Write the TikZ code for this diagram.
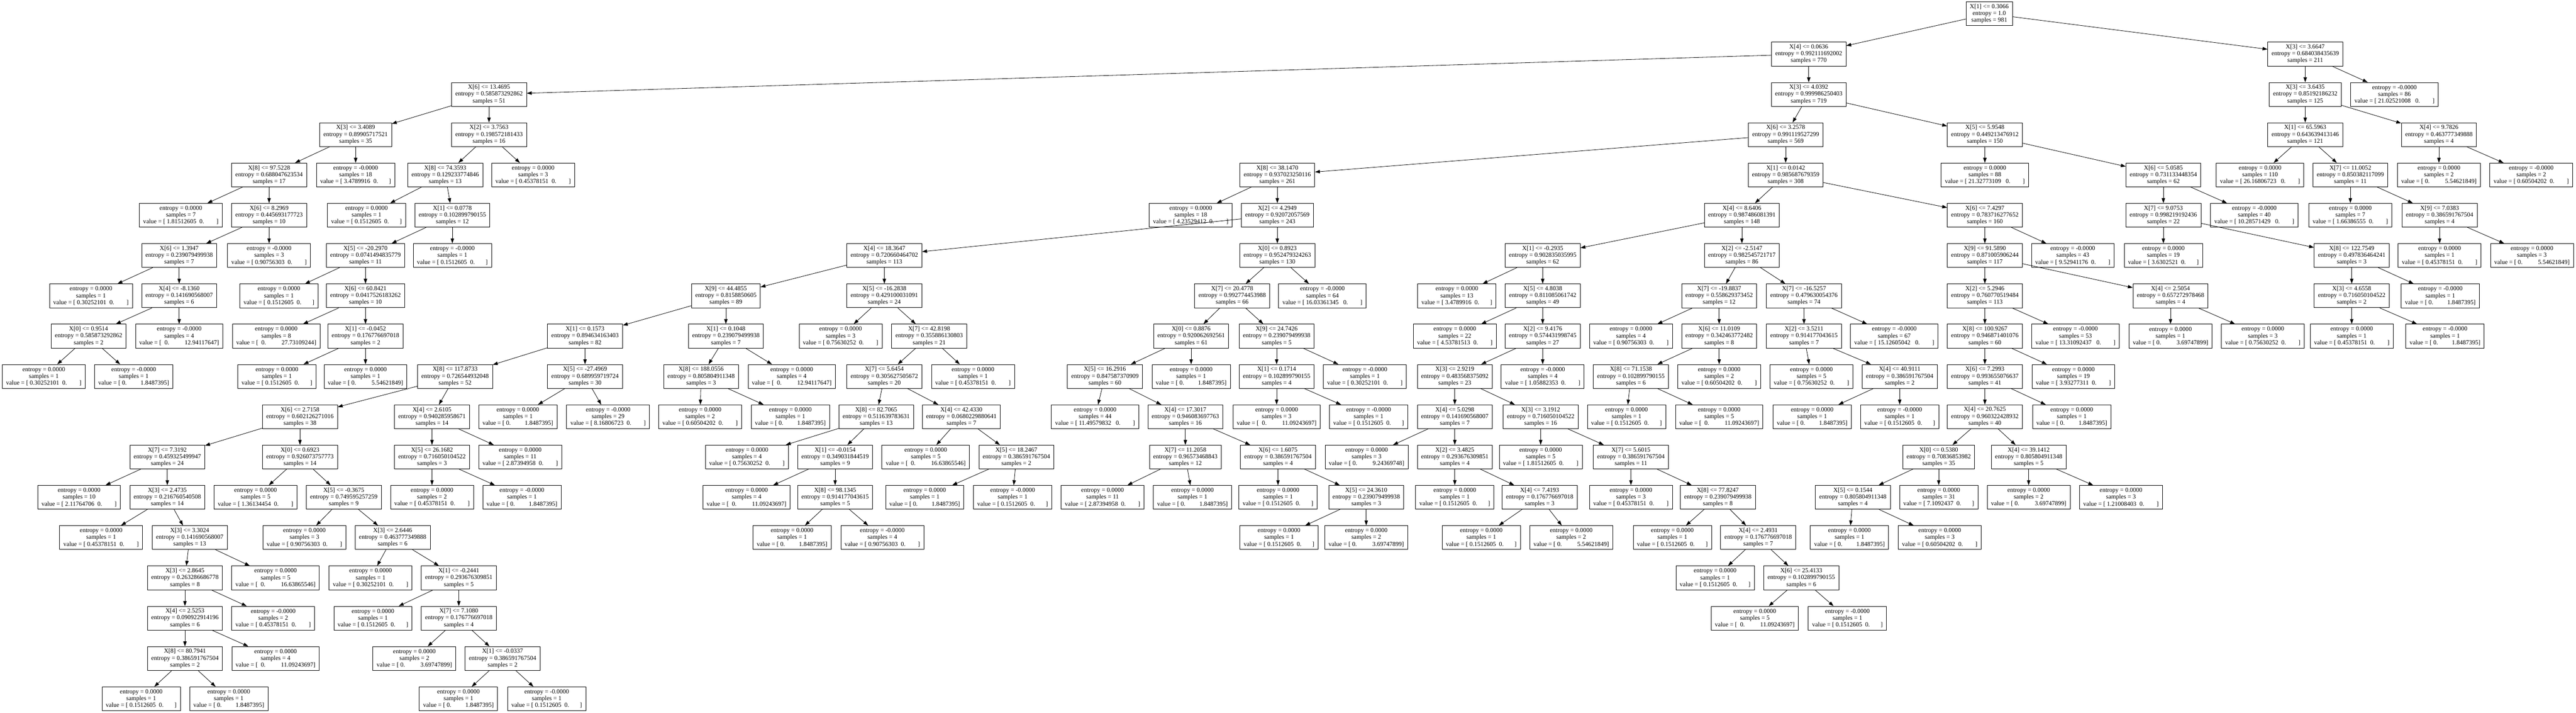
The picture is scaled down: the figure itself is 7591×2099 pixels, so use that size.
\documentclass[tikz,border=0pt]{standalone}
\usepackage{fontspec}
\setmainfont{Liberation Serif}
\usetikzlibrary{arrows.meta}

\newcommand{\gp}[1]{\hspace*{#1\fontdimen2\font}}
\newcommand{\xcond}[4]{X[#1] <= #2\\entropy = #3\\samples = #4}
\newcommand{\xleaf}[3]{entropy = #1\\samples = #2\\#3}
\newcommand{\valL}[2]{value = [ #1\gp{2}0.\gp{#2}]}
\newcommand{\valLL}[1]{value = [ #1\gp{3}0.\gp{8}]}
\newcommand{\valR}[2]{value = [ 0.\gp{#2}#1]}
\newcommand{\valRR}[1]{value = [\gp{2}0.\gp{10}#1]}

\begin{document}
\begin{tikzpicture}[x=0.02cm, y=-0.02cm, node distance=2.3732cm, line width=0.7pt,
    >={Triangle[length=8.3pt,width=5.7pt]},
    tbox/.style={draw, rectangle, align=center, inner xsep=6.4pt, inner ysep=2pt,
        minimum height=39.9pt, font=\fontsize{10.4}{11.38}\selectfont}]
    \useasboundingbox (0,0) rectangle (7591,2099);

    % Nodes
    \node (n1) [tbox] at (5862,40.6) {\xcond{1}{0.3066}{1.0}{981}};
    \node (n2) [tbox] at (5330,159.2) {\xcond{4}{0.0636}{0.992111692002}{770}};
    \node (n3) [tbox] at (6793,159.2) {\xcond{3}{3.6647}{0.684038435639}{211}};

    \node (n4) [tbox] at (1441,277.9) {\xcond{6}{13.4695}{0.585873292862}{51}};
    \node (n5) [below of=n2, tbox] {\xcond{3}{4.0392}{0.999986250403}{719}};
    \node (n6) [below of=n3, tbox] {\xcond{3}{3.6435}{0.85192186232}{125}};
    \node (n7) [tbox] at (7056,277.9) {\xleaf{-0.0000}{86}{\valLL{21.02521008}}};

    \node (n8) [tbox] at (1048,396.5) {\xcond{3}{3.4089}{0.89905717521}{35}};
    \node (n9) [below of=n4, tbox] {\xcond{2}{3.7563}{0.198572181433}{16}};
    \node (n10) [tbox] at (5262,396.5) {\xcond{6}{3.2578}{0.991119527299}{569}};
    \node (n11) [tbox] at (5849,396.5) {\xcond{5}{5.9548}{0.449213476912}{150}};
    \node (n12) [below of=n6, tbox] {\xcond{1}{65.5963}{0.643639413146}{121}};
    \node (n13) [tbox] at (7187,396.5) {\xcond{4}{9.7826}{0.463777349888}{4}};

    \node (n14) [tbox] at (793,515.2) {\xcond{8}{97.5228}{0.688047623534}{17}};
    \node (n15) [below of=n8, tbox] {\xleaf{-0.0000}{18}{\valL{3.4789916}{7}}};
    \node (n16) [tbox] at (1312,515.2) {\xcond{8}{74.3593}{0.129233774846}{13}};
    \node (n17) [tbox] at (1571,515.2) {\xleaf{0.0000}{3}{\valL{0.45378151}{8}}};
    \node (n18) [tbox] at (3764,515.2) {\xcond{8}{38.1470}{0.937023250116}{261}};
    \node (n19) [below of=n10, tbox] {\xcond{1}{0.0142}{0.985687679359}{308}};
    \node (n20) [below of=n11, tbox] {\xleaf{0.0000}{88}{\valLL{21.32773109}}};
    \node (n21) [tbox] at (6375,515.2) {\xcond{6}{5.0585}{0.731133448354}{62}};
    \node (n22) [tbox] at (6660,515.2) {\xleaf{0.0000}{110}{\valLL{26.16806723}}};
    \node (n23) [tbox] at (6926,515.2) {\xcond{7}{11.0052}{0.850382117099}{11}};
    \node (n24) [below of=n13, tbox] {\xleaf{0.0000}{2}{\valR{5.54621849}{10}}};
    \node (n25) [tbox] at (7459,515.2) {\xleaf{-0.0000}{2}{\valL{0.60504202}{8}}};

    \node (n26) [tbox] at (533,633.9) {\xleaf{0.0000}{7}{\valL{1.81512605}{8}}};
    \node (n27) [below of=n14, tbox] {\xcond{6}{8.2969}{0.445693177723}{10}};
    \node (n28) [tbox] at (1080,633.9) {\xleaf{0.0000}{1}{\valL{0.1512605}{7}}};
    \node (n29) [tbox] at (1333,633.9) {\xcond{1}{0.0778}{0.102899790155}{12}};
    \node (n30) [tbox] at (3509,633.9) {\xleaf{0.0000}{18}{\valL{4.23529412}{8}}};
    \node (n31) [below of=n18, tbox] {\xcond{2}{4.2949}{0.92072057569}{243}};
    \node (n32) [tbox] at (5133,633.9) {\xcond{4}{8.6406}{0.987486081391}{148}};
    \node (n33) [tbox] at (5849,633.9) {\xcond{6}{7.4297}{0.783716277652}{160}};
    \node (n34) [below of=n21, tbox] {\xcond{7}{9.0753}{0.998219192436}{22}};
    \node (n35) [tbox] at (6643,633.9) {\xleaf{-0.0000}{40}{\valLL{10.28571429}}};
    \node (n36) [below of=n23, tbox] {\xleaf{0.0000}{7}{\valL{1.66386555}{8}}};
    \node (n37) [tbox] at (7189,633.9) {\xcond{9}{7.0383}{0.386591767504}{4}};

    \node (n38) [tbox] at (528,752.5) {\xcond{6}{1.3947}{0.239079499938}{7}};
    \node (n39) [below of=n27, tbox] {\xleaf{-0.0000}{3}{\valL{0.90756303}{8}}};
    \node (n40) [tbox] at (1077,752.5) {\xcond{5}{-20.2970}{0.0741494835779}{11}};
    \node (n41) [below of=n29, tbox] {\xleaf{-0.0000}{1}{\valL{0.1512605}{7}}};
    \node (n42) [tbox] at (2606,752.5) {\xcond{4}{18.3647}{0.720660464702}{113}};
    \node (n43) [below of=n31, tbox] {\xcond{0}{0.8923}{0.952479324263}{130}};
    \node (n44) [tbox] at (4546,752.5) {\xcond{1}{-0.2935}{0.902835035995}{62}};
    \node (n45) [below of=n32, tbox] {\xcond{2}{-2.5147}{0.982545721717}{86}};
    \node (n46) [below of=n33, tbox] {\xcond{9}{91.5890}{0.871005906244}{117}};
    \node (n47) [tbox] at (6108,752.5) {\xleaf{-0.0000}{43}{\valL{9.52941176}{8}}};
    \node (n48) [below of=n34, tbox] {\xleaf{0.0000}{19}{\valL{3.6302521}{7}}};
    \node (n49) [tbox] at (6930,752.5) {\xcond{8}{122.7549}{0.497836464241}{3}};
    \node (n50) [below of=n37, tbox] {\xleaf{0.0000}{1}{\valL{0.45378151}{8}}};
    \node (n51) [tbox] at (7461,752.5) {\xleaf{0.0000}{3}{\valR{5.54621849}{10}}};

    \node (n52) [tbox] at (268,871.2) {\xleaf{0.0000}{1}{\valL{0.30252101}{8}}};
    \node (n53) [below of=n38, tbox] {\xcond{4}{-8.1360}{0.141690568007}{6}};
    \node (n54) [tbox] at (822,871.2) {\xleaf{0.0000}{1}{\valL{0.1512605}{7}}};
    \node (n55) [below of=n40, tbox] {\xcond{6}{60.8421}{0.0417526183262}{10}};
    \node (n56) [tbox] at (2139,871.2) {\xcond{9}{44.4855}{0.8158850605}{89}};
    \node (n57) [below of=n42, tbox] {\xcond{5}{-16.2838}{0.429100031091}{24}};
    \node (n58) [tbox] at (3631,871.2) {\xcond{7}{20.4778}{0.992774453988}{66}};
    \node (n59) [tbox] at (3897,871.2) {\xleaf{-0.0000}{64}{\valLL{16.03361345}}};
    \node (n60) [tbox] at (4293,871.2) {\xleaf{0.0000}{13}{\valL{3.4789916}{7}}};
    \node (n61) [below of=n44, tbox] {\xcond{5}{4.8038}{0.811085061742}{49}};
    \node (n62) [tbox] at (5066,871.2) {\xcond{7}{-19.8837}{0.558629373452}{12}};
    \node (n63) [tbox] at (5316,871.2) {\xcond{7}{-16.5257}{0.479630054376}{74}};
    \node (n64) [below of=n46, tbox] {\xcond{2}{5.2946}{0.760770519484}{113}};
    \node (n65) [tbox] at (6396,871.2) {\xcond{4}{2.5054}{0.657272978468}{4}};
    \node (n66) [below of=n49, tbox] {\xcond{3}{4.6558}{0.716050104522}{2}};
    \node (n67) [tbox] at (7191,871.2) {\xleaf{-0.0000}{1}{\valR{1.8487395}{9}}};

    \node (n68) [tbox] at (261,989.8) {\xcond{0}{0.9514}{0.585873292862}{2}};
    \node (n69) [below of=n53, tbox] {\xleaf{-0.0000}{4}{\valRR{12.94117647}}};
    \node (n70) [tbox] at (814,989.8) {\xleaf{0.0000}{8}{\valRR{27.73109244}}};
    \node (n71) [below of=n55, tbox] {\xcond{1}{-0.0452}{0.176776697018}{2}};
    \node (n72) [tbox] at (1724,989.8) {\xcond{1}{0.1573}{0.894634163403}{82}};
    \node (n73) [below of=n56, tbox] {\xcond{1}{0.1048}{0.239079499938}{7}};
    \node (n74) [tbox] at (2477,989.8) {\xleaf{0.0000}{3}{\valL{0.75630252}{8}}};
    \node (n75) [tbox] at (2738,989.8) {\xcond{7}{42.8198}{0.355886130803}{21}};
    \node (n76) [tbox] at (3510,989.8) {\xcond{0}{0.8876}{0.920062692561}{61}};
    \node (n77) [tbox] at (3762,989.8) {\xcond{9}{24.7426}{0.239079499938}{5}};
    \node (n78) [tbox] at (4287,989.8) {\xleaf{0.0000}{22}{\valL{4.53781513}{8}}};
    \node (n79) [below of=n61, tbox] {\xcond{2}{9.4176}{0.574431998745}{27}};
    \node (n80) [tbox] at (4806,989.8) {\xleaf{0.0000}{4}{\valL{0.90756303}{8}}};
    \node (n81) [below of=n62, tbox] {\xcond{6}{11.0109}{0.342463772482}{8}};
    \node (n82) [below of=n63, tbox] {\xcond{2}{3.5211}{0.914177043615}{7}};
    \node (n83) [tbox] at (5582,989.8) {\xleaf{-0.0000}{67}{\valLL{15.12605042}}};
    \node (n84) [below of=n64, tbox] {\xcond{8}{100.9267}{0.946871401076}{60}};
    \node (n85) [tbox] at (6116,989.8) {\xleaf{-0.0000}{53}{\valLL{13.31092437}}};
    \node (n86) [below of=n65, tbox] {\xleaf{0.0000}{1}{\valR{3.69747899}{10}}};
    \node (n87) [tbox] at (6668,989.8) {\xleaf{0.0000}{3}{\valL{0.75630252}{8}}};
    \node (n88) [below of=n66, tbox] {\xleaf{0.0000}{1}{\valL{0.45378151}{8}}};
    \node (n89) [tbox] at (7205,989.8) {\xleaf{-0.0000}{1}{\valR{1.8487395}{9}}};

    \node (n90) [tbox] at (129,1108.5) {\xleaf{0.0000}{1}{\valL{0.30252101}{8}}};
    \node (n91) [tbox] at (394,1108.5) {\xleaf{-0.0000}{1}{\valR{1.8487395}{9}}};
    \node (n92) [tbox] at (816,1108.5) {\xleaf{0.0000}{1}{\valL{0.1512605}{7}}};
    \node (n93) [below of=n71, tbox] {\xleaf{0.0000}{1}{\valR{5.54621849}{10}}};
    \node (n94) [tbox] at (1341,1108.5) {\xcond{8}{117.8733}{0.726544932048}{52}};
    \node (n95) [below of=n72, tbox] {\xcond{5}{-27.4969}{0.689959719724}{30}};
    \node (n96) [tbox] at (2066,1108.5) {\xcond{8}{188.0556}{0.805804911348}{3}};
    \node (n97) [tbox] at (2333,1108.5) {\xleaf{0.0000}{4}{\valRR{12.94117647}}};
    \node (n98) [tbox] at (2606,1108.5) {\xcond{7}{5.6454}{0.305627505672}{20}};
    \node (n99) [tbox] at (2867,1108.5) {\xleaf{0.0000}{1}{\valL{0.45378151}{8}}};
    \node (n100) [tbox] at (3256,1108.5) {\xcond{5}{16.2916}{0.847587370909}{60}};
    \node (n101) [below of=n76, tbox] {\xleaf{0.0000}{1}{\valR{1.8487395}{9}}};
    \node (n102) [below of=n77, tbox] {\xcond{1}{0.1714}{0.102899790155}{4}};
    \node (n103) [tbox] at (4022,1108.5) {\xleaf{-0.0000}{1}{\valL{0.30252101}{8}}};
    \node (n104) [tbox] at (4287,1108.5) {\xcond{3}{2.9219}{0.483568375092}{23}};
    \node (n105) [below of=n79, tbox] {\xleaf{-0.0000}{4}{\valL{1.05882353}{8}}};
    \node (n106) [tbox] at (4806,1108.5) {\xcond{8}{71.1538}{0.102899790155}{6}};
    \node (n107) [below of=n81, tbox] {\xleaf{0.0000}{2}{\valL{0.60504202}{8}}};
    \node (n108) [tbox] at (5338,1108.5) {\xleaf{0.0000}{5}{\valL{0.75630252}{8}}};
    \node (n109) [tbox] at (5598,1108.5) {\xcond{4}{40.9111}{0.386591767504}{2}};
    \node (n110) [below of=n84, tbox] {\xcond{6}{7.2993}{0.993655076637}{41}};
    \node (n111) [tbox] at (6110,1108.5) {\xleaf{0.0000}{19}{\valL{3.93277311}{8}}};

    \node (n112) [tbox] at (884,1227.2) {\xcond{6}{2.7158}{0.602126271016}{38}};
    \node (n113) [tbox] at (1273,1227.2) {\xcond{4}{2.6105}{0.940285958671}{14}};
    \node (n114) [tbox] at (1526,1227.2) {\xleaf{0.0000}{1}{\valR{1.8487395}{9}}};
    \node (n115) [tbox] at (1792,1227.2) {\xleaf{-0.0000}{29}{\valL{8.16806723}{8}}};
    \node (n116) [tbox] at (2063,1227.2) {\xleaf{0.0000}{2}{\valL{0.60504202}{8}}};
    \node (n117) [tbox] at (2329,1227.2) {\xleaf{0.0000}{1}{\valR{1.8487395}{9}}};
    \node (n118) [tbox] at (2582,1227.2) {\xcond{8}{82.7065}{0.511639783631}{13}};
    \node (n119) [tbox] at (2833,1227.2) {\xcond{4}{42.4330}{0.0680229880641}{7}};
    \node (n120) [tbox] at (3227,1227.2) {\xleaf{0.0000}{44}{\valLL{11.49579832}}};
    \node (n121) [tbox] at (3493,1227.2) {\xcond{4}{17.3017}{0.946083697763}{16}};
    \node (n122) [below of=n102, tbox] {\xleaf{0.0000}{3}{\valRR{11.09243697}}};
    \node (n123) [tbox] at (4033,1227.2) {\xleaf{-0.0000}{1}{\valL{0.1512605}{7}}};
    \node (n124) [below of=n104, tbox] {\xcond{4}{5.0298}{0.141690568007}{7}};
    \node (n125) [tbox] at (4540,1227.2) {\xcond{3}{3.1912}{0.716050104522}{16}};
    \node (n126) [tbox] at (4793,1227.2) {\xleaf{0.0000}{1}{\valL{0.1512605}{7}}};
    \node (n127) [tbox] at (5066,1227.2) {\xleaf{0.0000}{5}{\valRR{11.09243697}}};
    \node (n128) [tbox] at (5340,1227.2) {\xleaf{0.0000}{1}{\valR{1.8487395}{9}}};
    \node (n129) [below of=n109, tbox] {\xleaf{-0.0000}{1}{\valL{0.1512605}{7}}};
    \node (n130) [below of=n110, tbox] {\xcond{4}{20.7625}{0.960322428932}{40}};
    \node (n131) [tbox] at (6105,1227.2) {\xleaf{0.0000}{1}{\valR{1.8487395}{9}}};

    \node (n132) [tbox] at (493,1345.8) {\xcond{7}{7.3192}{0.459325499947}{24}};
    \node (n133) [below of=n112, tbox] {\xcond{0}{0.6923}{0.926073757773}{14}};
    \node (n134) [below of=n113, tbox] {\xcond{5}{26.1682}{0.716050104522}{3}};
    \node (n135) [tbox] at (1533,1345.8) {\xleaf{0.0000}{11}{\valL{2.87394958}{8}}};
    \node (n136) [tbox] at (2201,1345.8) {\xleaf{0.0000}{4}{\valL{0.75630252}{8}}};
    \node (n137) [tbox] at (2461,1345.8) {\xcond{1}{-0.0154}{0.349031844519}{9}};
    \node (n138) [tbox] at (2728,1345.8) {\xleaf{0.0000}{5}{\valRR{16.63865546}}};
    \node (n139) [tbox] at (2995,1345.8) {\xcond{5}{18.2467}{0.386591767504}{2}};
    \node (n140) [below of=n121, tbox] {\xcond{7}{11.2058}{0.96573468843}{12}};
    \node (n141) [tbox] at (3766,1345.8) {\xcond{6}{1.6075}{0.386591767504}{4}};
    \node (n142) [tbox] at (4027,1345.8) {\xleaf{0.0000}{3}{\valR{9.24369748}{10}}};
    \node (n143) [below of=n124, tbox] {\xcond{2}{3.4825}{0.293676309851}{4}};
    \node (n144) [below of=n125, tbox] {\xleaf{0.0000}{5}{\valL{1.81512605}{8}}};
    \node (n145) [tbox] at (4806,1345.8) {\xcond{7}{5.6015}{0.386591767504}{11}};
    \node (n146) [tbox] at (5713,1345.8) {\xcond{0}{0.5380}{0.70836853982}{35}};
    \node (n147) [tbox] at (5978,1345.8) {\xcond{4}{39.1412}{0.805804911348}{5}};

    \node (n148) [tbox] at (233,1464.5) {\xleaf{0.0000}{10}{\valL{2.11764706}{8}}};
    \node (n149) [below of=n132, tbox] {\xcond{3}{2.4735}{0.216760540508}{14}};
    \node (n150) [tbox] at (753,1464.5) {\xleaf{0.0000}{5}{\valL{1.36134454}{8}}};
    \node (n151) [tbox] at (1013,1464.5) {\xcond{5}{-0.3675}{0.749595257259}{9}};
    \node (n152) [below of=n134, tbox] {\xleaf{0.0000}{2}{\valL{0.45378151}{8}}};
    \node (n153) [tbox] at (1538,1464.5) {\xleaf{-0.0000}{1}{\valR{1.8487395}{9}}};
    \node (n154) [tbox] at (2200,1464.5) {\xleaf{0.0000}{4}{\valRR{11.09243697}}};
    \node (n155) [below of=n137, tbox] {\xcond{8}{98.1345}{0.914177043615}{5}};
    \node (n156) [tbox] at (2725,1464.5) {\xleaf{0.0000}{1}{\valR{1.8487395}{9}}};
    \node (n157) [tbox] at (2984,1464.5) {\xleaf{-0.0000}{1}{\valL{0.1512605}{7}}};
    \node (n158) [tbox] at (3249,1464.5) {\xleaf{0.0000}{11}{\valL{2.87394958}{8}}};
    \node (n159) [tbox] at (3514,1464.5) {\xleaf{0.0000}{1}{\valR{1.8487395}{9}}};
    \node (n160) [below of=n141, tbox] {\xleaf{0.0000}{1}{\valL{0.1512605}{7}}};
    \node (n161) [tbox] at (4026,1464.5) {\xcond{5}{24.3610}{0.239079499938}{3}};
    \node (n162) [below of=n143, tbox] {\xleaf{0.0000}{1}{\valL{0.1512605}{7}}};
    \node (n163) [tbox] at (4537,1464.5) {\xcond{4}{7.4193}{0.176776697018}{3}};
    \node (n164) [below of=n145, tbox] {\xleaf{0.0000}{3}{\valL{0.45378151}{8}}};
    \node (n165) [tbox] at (5062,1464.5) {\xcond{8}{77.8247}{0.239079499938}{8}};
    \node (n166) [tbox] at (5460,1464.5) {\xcond{5}{0.1544}{0.805804911348}{4}};
    \node (n167) [below of=n146, tbox] {\xleaf{0.0000}{31}{\valL{7.1092437}{7}}};
    \node (n168) [below of=n147, tbox] {\xleaf{0.0000}{2}{\valR{3.69747899}{10}}};
    \node (n169) [tbox] at (6250,1464.5) {\xleaf{0.0000}{3}{\valL{1.21008403}{8}}};

    \node (n170) [tbox] at (298,1583.1) {\xleaf{0.0000}{1}{\valL{0.45378151}{8}}};
    \node (n171) [tbox] at (559,1583.1) {\xcond{3}{3.3024}{0.141690568007}{13}};
    \node (n172) [tbox] at (897,1583.1) {\xleaf{0.0000}{3}{\valL{0.90756303}{8}}};
    \node (n173) [tbox] at (1157,1583.1) {\xcond{3}{2.6446}{0.463777349888}{6}};
    \node (n174) [tbox] at (2334,1583.1) {\xleaf{0.0000}{1}{\valR{1.8487395}{9}}};
    \node (n175) [tbox] at (2600,1583.1) {\xleaf{-0.0000}{4}{\valL{0.90756303}{8}}};
    \node (n176) [tbox] at (3769,1583.1) {\xleaf{0.0000}{1}{\valL{0.1512605}{7}}};
    \node (n177) [below of=n161, tbox] {\xleaf{0.0000}{2}{\valR{3.69747899}{10}}};
    \node (n178) [tbox] at (4365,1583.1) {\xleaf{0.0000}{1}{\valL{0.1512605}{7}}};
    \node (n179) [tbox] at (4630,1583.1) {\xleaf{0.0000}{2}{\valR{5.54621849}{10}}};
    \node (n180) [tbox] at (4928,1583.1) {\xleaf{0.0000}{1}{\valL{0.1512605}{7}}};
    \node (n181) [tbox] at (5181,1583.1) {\xcond{4}{2.4931}{0.176776697018}{7}};
    \node (n182) [tbox] at (5450,1583.1) {\xleaf{0.0000}{1}{\valR{1.8487395}{9}}};
    \node (n183) [tbox] at (5716,1583.1) {\xleaf{0.0000}{3}{\valL{0.60504202}{8}}};

    \node (n184) [tbox] at (545,1701.8) {\xcond{3}{2.8645}{0.263286686778}{8}};
    \node (n185) [tbox] at (812,1701.8) {\xleaf{0.0000}{5}{\valRR{16.63865546}}};
    \node (n186) [tbox] at (1092,1701.8) {\xleaf{0.0000}{1}{\valL{0.30252101}{8}}};
    \node (n187) [tbox] at (1352,1701.8) {\xcond{1}{-0.2441}{0.293676309851}{5}};
    \node (n188) [tbox] at (5054,1701.8) {\xleaf{0.0000}{1}{\valL{0.1512605}{7}}};
    \node (n189) [tbox] at (5308,1701.8) {\xcond{6}{25.4133}{0.102899790155}{6}};

    \node (n190) [below of=n184, tbox] {\xcond{4}{2.5253}{0.090922914196}{6}};
    \node (n191) [tbox] at (805,1820.5) {\xleaf{-0.0000}{2}{\valL{0.45378151}{8}}};
    \node (n192) [tbox] at (1099,1820.5) {\xleaf{0.0000}{1}{\valL{0.1512605}{7}}};
    \node (n193) [below of=n187, tbox] {\xcond{7}{7.1080}{0.176776697018}{4}};
    \node (n194) [tbox] at (5171,1820.5) {\xleaf{0.0000}{5}{\valRR{11.09243697}}};
    \node (n195) [tbox] at (5444,1820.5) {\xleaf{-0.0000}{1}{\valL{0.1512605}{7}}};

    \node (n196) [below of=n190, tbox] {\xcond{8}{80.7941}{0.386591767504}{2}};
    \node (n197) [tbox] at (812,1939.1) {\xleaf{0.0000}{4}{\valRR{11.09243697}}};
    \node (n198) [tbox] at (1221,1939.1) {\xleaf{0.0000}{2}{\valR{3.69747899}{10}}};
    \node (n199) [tbox] at (1481,1939.1) {\xcond{1}{-0.0337}{0.386591767504}{2}};

    \node (n200) [tbox] at (416,2057.8) {\xleaf{0.0000}{1}{\valL{0.1512605}{7}}};
    \node (n201) [tbox] at (674,2057.8) {\xleaf{0.0000}{1}{\valR{1.8487395}{9}}};
    \node (n202) [tbox] at (1351,2057.8) {\xleaf{0.0000}{1}{\valR{1.8487395}{9}}};
    \node (n203) [tbox] at (1611,2057.8) {\xleaf{-0.0000}{1}{\valL{0.1512605}{7}}};

    % Arrows
    \draw[->] (n1) -- (n2);
    \draw[->] (n1) -- (n3);
    \draw[->] (n2) -- (n4);
    \draw[->] (n2) -- (n5);
    \draw[->] (n3) -- (n6);
    \draw[->] (n3) -- (n7);
    \draw[->] (n4) -- (n8);
    \draw[->] (n4) -- (n9);
    \draw[->] (n5) -- (n10);
    \draw[->] (n5) -- (n11);
    \draw[->] (n6) -- (n12);
    \draw[->] (n6) -- (n13);
    \draw[->] (n8) -- (n14);
    \draw[->] (n8) -- (n15);
    \draw[->] (n9) -- (n16);
    \draw[->] (n9) -- (n17);
    \draw[->] (n10) -- (n18);
    \draw[->] (n10) -- (n19);
    \draw[->] (n11) -- (n20);
    \draw[->] (n11) -- (n21);
    \draw[->] (n12) -- (n22);
    \draw[->] (n12) -- (n23);
    \draw[->] (n13) -- (n24);
    \draw[->] (n13) -- (n25);
    \draw[->] (n14) -- (n26);
    \draw[->] (n14) -- (n27);
    \draw[->] (n16) -- (n28);
    \draw[->] (n16) -- (n29);
    \draw[->] (n18) -- (n30);
    \draw[->] (n18) -- (n31);
    \draw[->] (n19) -- (n32);
    \draw[->] (n19) -- (n33);
    \draw[->] (n21) -- (n34);
    \draw[->] (n21) -- (n35);
    \draw[->] (n23) -- (n36);
    \draw[->] (n23) -- (n37);
    \draw[->] (n27) -- (n38);
    \draw[->] (n27) -- (n39);
    \draw[->] (n29) -- (n40);
    \draw[->] (n29) -- (n41);
    \draw[->] (n31) -- (n42);
    \draw[->] (n31) -- (n43);
    \draw[->] (n32) -- (n44);
    \draw[->] (n32) -- (n45);
    \draw[->] (n33) -- (n46);
    \draw[->] (n33) -- (n47);
    \draw[->] (n34) -- (n48);
    \draw[->] (n34) -- (n49);
    \draw[->] (n37) -- (n50);
    \draw[->] (n37) -- (n51);
    \draw[->] (n38) -- (n52);
    \draw[->] (n38) -- (n53);
    \draw[->] (n40) -- (n54);
    \draw[->] (n40) -- (n55);
    \draw[->] (n42) -- (n56);
    \draw[->] (n42) -- (n57);
    \draw[->] (n43) -- (n58);
    \draw[->] (n43) -- (n59);
    \draw[->] (n44) -- (n60);
    \draw[->] (n44) -- (n61);
    \draw[->] (n45) -- (n62);
    \draw[->] (n45) -- (n63);
    \draw[->] (n46) -- (n64);
    \draw[->] (n46) -- (n65);
    \draw[->] (n49) -- (n66);
    \draw[->] (n49) -- (n67);
    \draw[->] (n53) -- (n68);
    \draw[->] (n53) -- (n69);
    \draw[->] (n55) -- (n70);
    \draw[->] (n55) -- (n71);
    \draw[->] (n56) -- (n72);
    \draw[->] (n56) -- (n73);
    \draw[->] (n57) -- (n74);
    \draw[->] (n57) -- (n75);
    \draw[->] (n58) -- (n76);
    \draw[->] (n58) -- (n77);
    \draw[->] (n61) -- (n78);
    \draw[->] (n61) -- (n79);
    \draw[->] (n62) -- (n80);
    \draw[->] (n62) -- (n81);
    \draw[->] (n63) -- (n82);
    \draw[->] (n63) -- (n83);
    \draw[->] (n64) -- (n84);
    \draw[->] (n64) -- (n85);
    \draw[->] (n65) -- (n86);
    \draw[->] (n65) -- (n87);
    \draw[->] (n66) -- (n88);
    \draw[->] (n66) -- (n89);
    \draw[->] (n68) -- (n90);
    \draw[->] (n68) -- (n91);
    \draw[->] (n71) -- (n92);
    \draw[->] (n71) -- (n93);
    \draw[->] (n72) -- (n94);
    \draw[->] (n72) -- (n95);
    \draw[->] (n73) -- (n96);
    \draw[->] (n73) -- (n97);
    \draw[->] (n75) -- (n98);
    \draw[->] (n75) -- (n99);
    \draw[->] (n76) -- (n100);
    \draw[->] (n76) -- (n101);
    \draw[->] (n77) -- (n102);
    \draw[->] (n77) -- (n103);
    \draw[->] (n79) -- (n104);
    \draw[->] (n79) -- (n105);
    \draw[->] (n81) -- (n106);
    \draw[->] (n81) -- (n107);
    \draw[->] (n82) -- (n108);
    \draw[->] (n82) -- (n109);
    \draw[->] (n84) -- (n110);
    \draw[->] (n84) -- (n111);
    \draw[->] (n94) -- (n112);
    \draw[->] (n94) -- (n113);
    \draw[->] (n95) -- (n114);
    \draw[->] (n95) -- (n115);
    \draw[->] (n96) -- (n116);
    \draw[->] (n96) -- (n117);
    \draw[->] (n98) -- (n118);
    \draw[->] (n98) -- (n119);
    \draw[->] (n100) -- (n120);
    \draw[->] (n100) -- (n121);
    \draw[->] (n102) -- (n122);
    \draw[->] (n102) -- (n123);
    \draw[->] (n104) -- (n124);
    \draw[->] (n104) -- (n125);
    \draw[->] (n106) -- (n126);
    \draw[->] (n106) -- (n127);
    \draw[->] (n109) -- (n128);
    \draw[->] (n109) -- (n129);
    \draw[->] (n110) -- (n130);
    \draw[->] (n110) -- (n131);
    \draw[->] (n112) -- (n132);
    \draw[->] (n112) -- (n133);
    \draw[->] (n113) -- (n134);
    \draw[->] (n113) -- (n135);
    \draw[->] (n118) -- (n136);
    \draw[->] (n118) -- (n137);
    \draw[->] (n119) -- (n138);
    \draw[->] (n119) -- (n139);
    \draw[->] (n121) -- (n140);
    \draw[->] (n121) -- (n141);
    \draw[->] (n124) -- (n142);
    \draw[->] (n124) -- (n143);
    \draw[->] (n125) -- (n144);
    \draw[->] (n125) -- (n145);
    \draw[->] (n130) -- (n146);
    \draw[->] (n130) -- (n147);
    \draw[->] (n132) -- (n148);
    \draw[->] (n132) -- (n149);
    \draw[->] (n133) -- (n150);
    \draw[->] (n133) -- (n151);
    \draw[->] (n134) -- (n152);
    \draw[->] (n134) -- (n153);
    \draw[->] (n137) -- (n154);
    \draw[->] (n137) -- (n155);
    \draw[->] (n139) -- (n156);
    \draw[->] (n139) -- (n157);
    \draw[->] (n140) -- (n158);
    \draw[->] (n140) -- (n159);
    \draw[->] (n141) -- (n160);
    \draw[->] (n141) -- (n161);
    \draw[->] (n143) -- (n162);
    \draw[->] (n143) -- (n163);
    \draw[->] (n145) -- (n164);
    \draw[->] (n145) -- (n165);
    \draw[->] (n146) -- (n166);
    \draw[->] (n146) -- (n167);
    \draw[->] (n147) -- (n168);
    \draw[->] (n147) -- (n169);
    \draw[->] (n149) -- (n170);
    \draw[->] (n149) -- (n171);
    \draw[->] (n151) -- (n172);
    \draw[->] (n151) -- (n173);
    \draw[->] (n155) -- (n174);
    \draw[->] (n155) -- (n175);
    \draw[->] (n161) -- (n176);
    \draw[->] (n161) -- (n177);
    \draw[->] (n163) -- (n178);
    \draw[->] (n163) -- (n179);
    \draw[->] (n165) -- (n180);
    \draw[->] (n165) -- (n181);
    \draw[->] (n166) -- (n182);
    \draw[->] (n166) -- (n183);
    \draw[->] (n171) -- (n184);
    \draw[->] (n171) -- (n185);
    \draw[->] (n173) -- (n186);
    \draw[->] (n173) -- (n187);
    \draw[->] (n181) -- (n188);
    \draw[->] (n181) -- (n189);
    \draw[->] (n184) -- (n190);
    \draw[->] (n184) -- (n191);
    \draw[->] (n187) -- (n192);
    \draw[->] (n187) -- (n193);
    \draw[->] (n189) -- (n194);
    \draw[->] (n189) -- (n195);
    \draw[->] (n190) -- (n196);
    \draw[->] (n190) -- (n197);
    \draw[->] (n193) -- (n198);
    \draw[->] (n193) -- (n199);
    \draw[->] (n196) -- (n200);
    \draw[->] (n196) -- (n201);
    \draw[->] (n199) -- (n202);
    \draw[->] (n199) -- (n203);
\end{tikzpicture}
\end{document}
